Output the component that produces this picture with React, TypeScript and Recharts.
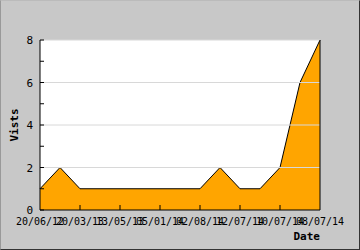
import { AreaChart, Area, XAxis, YAxis, CartesianGrid, ReferenceLine } from 'recharts'

const visits = [1, 2, 1, 1, 1, 1, 1, 1, 1, 2, 1, 1, 2, 6, 8]
const dateLabels = ['20/06/12', '20/03/13', '13/05/13', '05/01/14', '02/08/14', '12/07/14', '10/07/14', '08/07/14']
const yTicks = [0, 1, 2, 3, 4, 5, 6, 7, 8]
const gridLines = [2, 4, 6, 8]

const data = visits.map((v, i) => ({ idx: i, visits: v }))

const FONT = '"DejaVu Sans Mono", monospace'

function XTick(props: any) {
  const { x, y, payload } = props
  const i = payload.value as number
  if (i % 2 !== 0) return null
  const inner = i !== 0 && i !== visits.length - 1
  return (
    <g>
      {inner && <line x1={x} y1={y} x2={x} y2={y - 5} stroke="#000" />}
      <text x={x} y={y + 15} textAnchor="middle" fontFamily={FONT} fontSize={10} fill="#000">
        {dateLabels[i / 2]}
      </text>
    </g>
  )
}

function YTick(props: any) {
  const { x, y, payload } = props
  const v = payload.value as number
  return (
    <g>
      <line x1={x} y1={y} x2={x + 4} y2={y} stroke="#000" />
      {v % 2 === 0 && (
        <text x={x - 7} y={y + 4} textAnchor="end" fontFamily={FONT} fontSize={11} fill="#000">
          {v}
        </text>
      )}
    </g>
  )
}

export default function App() {
  return (
    <div
      style={{
        position: 'fixed',
        left: 0,
        top: 0,
        width: 360,
        height: 250,
        boxSizing: 'border-box',
        background: '#c8c8c8',
        borderRight: '1px solid #333',
        borderBottom: '1px solid #333',
        borderLeft: '1px solid #999',
        borderTop: '1px solid #bbb',
      }}
    >
      <div style={{ position: 'absolute', left: -1, top: -1 }}>
        <AreaChart width={360} height={250} data={data} margin={{ top: 40, right: 40, bottom: 0, left: 10 }}>
          <CartesianGrid fill="#fff" horizontal={false} vertical={false} />
          {gridLines.map((g) => (
            <ReferenceLine key={g} y={g} stroke="#d8d8d8" strokeWidth={1} />
          ))}
          <Area
            type="linear"
            dataKey="visits"
            stroke="#000"
            strokeWidth={1}
            fill="#ffa500"
            fillOpacity={1}
            isAnimationActive={false}
            dot={false}
            activeDot={false}
          />
          <ReferenceLine x={visits.length - 1} stroke="#000" strokeWidth={1} />
          <XAxis
            dataKey="idx"
            interval={0}
            height={40}
            tickLine={false}
            tickSize={0}
            tickMargin={0}
            axisLine={{ stroke: '#000' }}
            tick={<XTick />}
            label={(p: any) => {
              const vb = p.viewBox
              return (
                <text x={vb.x + vb.width} y={vb.y + 30} textAnchor="end" fontFamily={FONT} fontSize={11} fontWeight="bold" fill="#000">
                  Date
                </text>
              )
            }}
          />
          <YAxis
            width={30}
            domain={[0, 8]}
            ticks={yTicks}
            interval={0}
            tickLine={false}
            tickSize={0}
            tickMargin={0}
            axisLine={{ stroke: '#000' }}
            tick={<YTick />}
            label={(p: any) => {
              const vb = p.viewBox
              const cx = vb.x + 4
              const cy = vb.y + vb.height / 2
              return (
                <text x={cx} y={cy} transform={`rotate(-90 ${cx} ${cy})`} textAnchor="middle" dominantBaseline="central" fontFamily={FONT} fontSize={11} fontWeight="bold" fill="#000">
                  Vists
                </text>
              )
            }}
          />
        </AreaChart>
      </div>
    </div>
  )
}
